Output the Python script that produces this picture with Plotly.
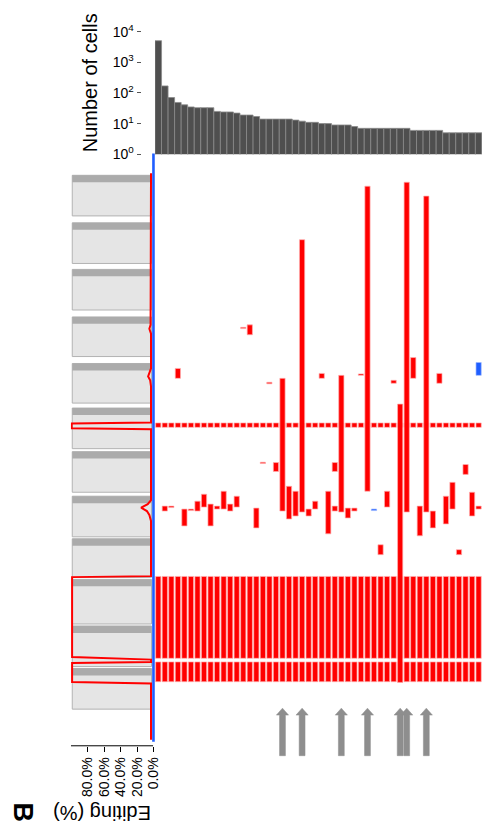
import plotly.graph_objects as go

W, H = 487, 836
FONT = "Liberation Sans, Arial, Helvetica, sans-serif"
RED = "#ff0000"
BLUE = "#1f5eff"

# ---------------- data ----------------
# number of cells in each of the 50 clusters (sorted)
n_cells = [5100, 170, 71, 49, 41, 35, 33, 33, 33, 25, 24, 24, 22,
           19, 19, 17, 14, 14, 14, 14, 14, 13, 12, 11, 11, 10, 10,
           9, 9, 9, 8, 7, 7, 7, 7, 7, 7, 7, 7, 6, 6, 6, 6, 6,
           5, 5, 5, 5, 5, 5]
cluster_ids = list(range(len(n_cells)))

# editing sites shared by every cluster (start / end along the locus)
shared_start = [277.0, 432.0, 518.3]
shared_end = [281.5, 514.7, 538.3]

# cluster-specific edited segments (A-to-I, red)
edit_col = [1, 2, 3, 4, 5, 6, 7, 8, 9, 10, 11, 12, 13, 14, 15, 16, 17, 18,
            19, 20, 21, 22, 23, 24, 25, 26, 27, 27, 28, 29, 30, 31, 32, 34,
            35, 36, 37, 38, 39, 40, 41, 42, 43, 44, 45, 46, 47, 48, 49]
edit_start = [361, 361, 222, 364, 364, 356, 349, 359, 361, 346, 359, 351,
              180.5, 178, 363, 316.7, 236, 317, 232, 341, 346, 92, 364, 356,
              227, 346, 317, 361, 229, 363, 363, 227.5, 38, 400, 346, 234,
              258, 34, 211, 361, 48, 366, 227, 351, 337, 405, 319, 347, 361]
edit_end = [366, 362.5, 232, 381, 365.5, 366, 362, 381, 364, 364, 366, 362,
            181.8, 188, 383, 318, 237.5, 326, 366, 374, 371, 367, 371, 364,
            232, 389, 326, 366, 367, 373, 366, 229, 346, 410, 362, 237,
            539, 367, 232, 391, 367, 383, 237, 379, 364, 410, 329, 371, 364]

# other edit type (blue)
other_col = [33, 49]
other_start = [364.0, 216.0]
other_end = [365.5, 229.0]

# pooled editing profile along the locus
prof_pos = [25, 170, 178, 182, 187, 222, 227, 230, 234, 240, 276.5, 277.7,
            282.3, 283.5, 320, 355, 359, 362.5, 366, 370, 376, 431.7, 432.7,
            513.3, 516, 518.3, 519.3, 538.7, 540, 597]
prof_pct = [3, 3, 3.5, 5, 3, 3, 5, 6.5, 4, 3, 3, 99.5,
            99.5, 3, 3, 3, 7, 15, 8, 5, 3, 3, 99,
            99, 3, 3, 99, 99, 3, 3]

# feature boxes along the locus
box_top = [27, 75, 122, 170, 217, 262, 306, 351, 394, 435, 482, 525]
box_bottom = [68, 116, 163, 210, 257, 303, 347, 392, 433, 480, 523, 566]

# clusters highlighted with arrows
arrow_cols = [19, 22, 28, 32, 37, 38, 41]

count_ticks = [1, 10, 100, 1000, 10000]
count_ticktext = ["10<sup>0</sup>", "10<sup>1</sup>", "10<sup>2</sup>",
                  "10<sup>3</sup>", "10<sup>4</sup>"]
pct_ticks = [0, 20, 40, 60, 80]
pct_ticktext = ["0.0%", "20.0%", "40.0%", "60.0%", "80.0%"]


def px_x(p):
    return p / W


def px_y(p):
    return 1 - p / H


fig = go.Figure()

# top: cells per cluster
fig.add_trace(go.Bar(
    x=cluster_ids, y=n_cells, width=1.0,
    marker=dict(color="#4f4f4f", line=dict(color="#8a8a8a", width=0.8)),
    xaxis="x", yaxis="y", showlegend=False))

# main: shared sites for every cluster
sh_x, sh_b, sh_h = [], [], []
for c in cluster_ids:
    for s, e in zip(shared_start, shared_end):
        sh_x.append(c)
        sh_b.append(s)
        sh_h.append(e - s)
bar_line = dict(color="#ffb0b0", width=0.7)
fig.add_trace(go.Bar(
    x=sh_x, y=sh_h, base=sh_b, width=0.8,
    marker=dict(color=RED, line=bar_line),
    xaxis="x2", yaxis="y2", showlegend=False))

# main: cluster-specific segments
fig.add_trace(go.Bar(
    x=edit_col, y=[e - s for s, e in zip(edit_start, edit_end)],
    base=edit_start, width=0.8,
    marker=dict(color=RED, line=bar_line),
    xaxis="x2", yaxis="y2", showlegend=False))
fig.add_trace(go.Bar(
    x=other_col, y=[e - s for s, e in zip(other_start, other_end)],
    base=other_start, width=0.8,
    marker=dict(color=BLUE, line=dict(color="#9db8ff", width=0.7)),
    xaxis="x2", yaxis="y2", showlegend=False))

# arrows under highlighted clusters
tip, head_base, tail = 565, 572, 613
ax, ay = [], []
for c in arrow_cols:
    ax += [c - 0.45, c - 0.45, c - 0.93, c, c + 0.93, c + 0.45, c + 0.45, c - 0.45, None]
    ay += [tail, head_base, head_base, tip, head_base, head_base, tail, tail, None]
fig.add_trace(go.Scatter(
    x=ax, y=ay, mode="lines", fill="toself", fillcolor="#8e8e8e",
    line=dict(color="#8e8e8e", width=0.5),
    xaxis="x2", yaxis="y2", showlegend=False, hoverinfo="skip"))

# left: feature boxes
shapes = []
for t, b in zip(box_top, box_bottom):
    shapes.append(dict(type="rect", xref="x3", yref="y3", x0=98.8, x1=2.4,
                       y0=t, y1=b, fillcolor="#e5e5e5",
                       line=dict(color="#b2b2b2", width=1), layer="below"))
    shapes.append(dict(type="rect", xref="x3", yref="y3", x0=98.8, x1=2.4,
                       y0=t, y1=t + 7, fillcolor="#ababab",
                       line=dict(width=0), layer="below"))

# left: editing profile
fig.add_trace(go.Scatter(
    x=prof_pct, y=prof_pos, mode="lines",
    line=dict(color=RED, width=2),
    xaxis="x3", yaxis="y3", showlegend=False))
fig.add_trace(go.Scatter(
    x=[0, 0], y=[5, 599], mode="lines",
    line=dict(color=BLUE, width=2.6),
    xaxis="x3", yaxis="y3", showlegend=False))

main_dom = [px_x(156.6), px_x(486.9)]
fig.update_layout(
    width=W, height=H,
    margin=dict(l=0, r=0, t=0, b=0),
    paper_bgcolor="white", plot_bgcolor="rgba(0,0,0,0)",
    barmode="overlay",
    font=dict(family=FONT, color="black"),
    shapes=shapes,
    xaxis=dict(domain=main_dom, range=[-0.5, 49.5], visible=False),
    yaxis=dict(domain=[px_y(155.7), px_y(20)], type="log", range=[0, 4.39],
               tickvals=count_ticks, ticktext=count_ticktext,
               ticks="outside", ticklen=4, tickcolor="#555",
               showline=False, showgrid=False, zeroline=False,
               anchor="free", position=px_x(142),
               tickfont=dict(size=14)),
    xaxis2=dict(domain=main_dom, range=[-0.5, 49.5], visible=False,
                anchor="y2"),
    yaxis2=dict(domain=[px_y(770), px_y(150)], range=[620, 0],
                visible=False, anchor="x2"),
    xaxis3=dict(domain=[px_x(71.6), px_x(157.3)], range=[100.5, -2.7],
                tickvals=pct_ticks, ticktext=pct_ticktext, tickangle=-90,
                showline=False,
                ticks="outside", ticklen=5, tickcolor="black",
                showgrid=False, zeroline=False, anchor="y3",
                tickfont=dict(size=14)),
    yaxis3=dict(domain=[px_y(753), px_y(150)], range=[603, 0],
                visible=False, anchor="x3"),
    annotations=[
        dict(text="Number of cells", x=px_x(91), y=px_y(84), xref="paper",
             yref="paper", textangle=-90, showarrow=False,
             font=dict(size=20), xanchor="center", yanchor="middle"),
        dict(text="Editing (%)", x=px_x(103), y=px_y(821), xref="paper",
             yref="paper", textangle=180, showarrow=False,
             font=dict(size=20), xanchor="center", yanchor="middle"),
        dict(text="<b>B</b>", x=px_x(23), y=px_y(820), xref="paper",
             yref="paper", textangle=90, showarrow=False,
             font=dict(size=27), xanchor="center", yanchor="middle"),
    ],
)

# axis baseline of the editing scale (0 % to 100 %)
fig.add_shape(type="line", xref="x3", yref="paper", x0=0.5, x1=100.5,
              y0=px_y(753), y1=px_y(753), line=dict(color="black", width=1))

fig.write_html("out.html")
